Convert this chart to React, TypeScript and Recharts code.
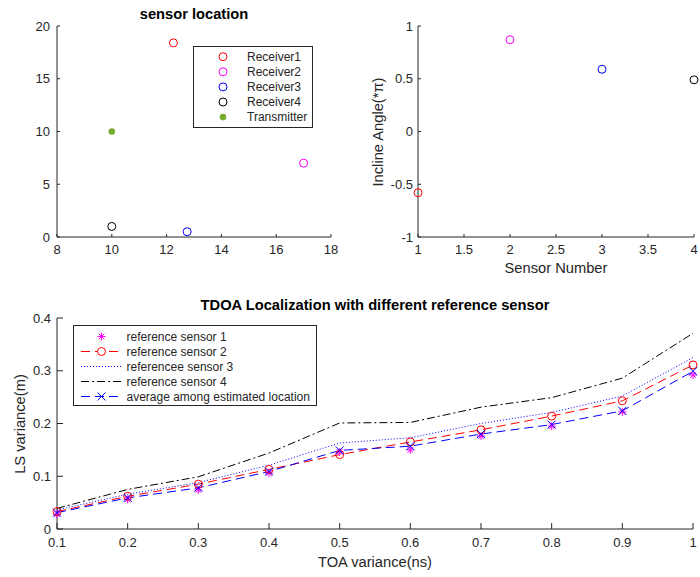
import React from "react";
import { ScatterChart, Scatter, LineChart, Line, XAxis, YAxis, Legend } from "recharts";

const FONT = '"Liberation Sans", Arial, Helvetica, sans-serif';
const INK = "#262626";

// sensor location
const receiverNames = ["Receiver1", "Receiver2", "Receiver3", "Receiver4"];
const receiverX = [12.25, 17, 12.75, 10];
const receiverY = [18.4, 7, 0.5, 1];
const transmitterX = [10];
const transmitterY = [10];
const locationXTicks = [8, 10, 12, 14, 16, 18];
const locationYTicks = [0, 5, 10, 15, 20];

// incline angle per sensor
const sensorNumber = [1, 2, 3, 4];
const inclineAngle = [-0.58, 0.87, 0.59, 0.49];
const sensorTicks = [1, 1.5, 2, 2.5, 3, 3.5, 4];
const angleTicks = [-1, -0.5, 0, 0.5, 1];

// TDOA localization
const toaVariance = [0.1, 0.2, 0.3, 0.4, 0.5, 0.6, 0.7, 0.8, 0.9, 1];
const refSensor1 = [0.028, 0.056, 0.074, 0.106, 0.146, 0.15, 0.176, 0.195, 0.222, 0.292];
const refSensor2 = [0.033, 0.062, 0.085, 0.113, 0.141, 0.165, 0.188, 0.214, 0.243, 0.311];
const refSensor3 = [0.036, 0.066, 0.088, 0.121, 0.163, 0.173, 0.2, 0.221, 0.252, 0.325];
const refSensor4 = [0.039, 0.075, 0.099, 0.144, 0.201, 0.202, 0.231, 0.249, 0.286, 0.371];
const averageLocation = [0.031, 0.059, 0.078, 0.109, 0.149, 0.157, 0.18, 0.198, 0.224, 0.299];
const lsTicks = [0, 0.1, 0.2, 0.3, 0.4];

const receiverColors = ["#ff0000", "#ff00ff", "#0000ff", "#000000"];
const transmitterColor = "#77ac30";

const tdoaRows = toaVariance.map((t, i) => ({
  t,
  s1: refSensor1[i],
  s2: refSensor2[i],
  s3: refSensor3[i],
  s4: refSensor4[i],
  avg: averageLocation[i],
}));

const tickStyle = { fill: INK, fontSize: 13, fontFamily: FONT };
const axisLine = { stroke: INK, strokeWidth: 1 };

const openCircle = (color: string, r = 4) => (p: any) =>
  <circle cx={p.cx} cy={p.cy} r={r} fill="none" stroke={color} strokeWidth={1} />;

const Asterisk = ({ cx, cy, color, s = 4 }: any) => (
  <g stroke={color} strokeWidth={1}>
    <line x1={cx - s} y1={cy} x2={cx + s} y2={cy} />
    <line x1={cx} y1={cy - s} x2={cx} y2={cy + s} />
    <line x1={cx - s * 0.7} y1={cy - s * 0.7} x2={cx + s * 0.7} y2={cy + s * 0.7} />
    <line x1={cx - s * 0.7} y1={cy + s * 0.7} x2={cx + s * 0.7} y2={cy - s * 0.7} />
  </g>
);

const Cross = ({ cx, cy, color, s = 4 }: any) => (
  <g stroke={color} strokeWidth={1}>
    <line x1={cx - s} y1={cy - s} x2={cx + s} y2={cy + s} />
    <line x1={cx - s} y1={cy + s} x2={cx + s} y2={cy - s} />
  </g>
);

const LocationLegend = () => (
  <svg width={120} height={82} style={{ display: "block" }}>
    <rect x={0.5} y={0.5} width={119} height={81} fill="#fff" stroke={INK} />
    {receiverNames.map((name, i) => (
      <g key={name}>
        <circle cx={30} cy={10.7 + 15.1 * i} r={4} fill="none" stroke={receiverColors[i]} />
        <text x={54} y={10.7 + 15.1 * i} dy="0.35em" fontSize={12} fontFamily={FONT} fill={INK}>
          {name}
        </text>
      </g>
    ))}
    <circle cx={30} cy={10.7 + 15.1 * 4} r={3.3} fill={transmitterColor} />
    <text x={54} y={10.7 + 15.1 * 4} dy="0.35em" fontSize={12} fontFamily={FONT} fill={INK}>
      Transmitter
    </text>
  </svg>
);

const tdoaLegendItems = [
  { label: "reference sensor 1", color: "#ff00ff", dash: "none", marker: "asterisk" },
  { label: "reference sensor 2", color: "#ff0000", dash: "9 5", marker: "circle" },
  { label: "referencee sensor 3", color: "#0000ff", dash: "1 2", marker: "" },
  { label: "reference sensor 4", color: "#000000", dash: "8 3 2 3", marker: "" },
  { label: "average among estimated location", color: "#0000ff", dash: "9 5", marker: "cross" },
];

const TdoaLegend = () => (
  <svg width={244} height={81} style={{ display: "block" }}>
    <rect x={0.5} y={0.5} width={243} height={80} fill="#fff" stroke={INK} />
    {tdoaLegendItems.map((it, i) => {
      const y = 11.5 + 15 * i;
      return (
        <g key={it.label}>
          {it.dash !== "none" && (
            <line x1={8} y1={y} x2={49} y2={y} stroke={it.color} strokeDasharray={it.dash} />
          )}
          {it.marker === "asterisk" && <Asterisk cx={28.5} cy={y} color={it.color} />}
          {it.marker === "circle" && (
            <circle cx={28.5} cy={y} r={4} fill="#fff" stroke={it.color} />
          )}
          {it.marker === "cross" && <Cross cx={28.5} cy={y} color={it.color} />}
          <text x={53.5} y={y} dy="0.35em" fontSize={12} fontFamily={FONT} fill={INK}>
            {it.label}
          </text>
        </g>
      );
    })}
  </svg>
);

const textBox = (cx: number, cy: number, text: string, opts: any = {}) => (
  <div
    style={{
      position: "absolute",
      left: cx - 200,
      top: cy - 10,
      width: 400,
      height: 20,
      lineHeight: "20px",
      textAlign: "center",
      fontFamily: FONT,
      fontSize: 14.7,
      color: opts.bold ? "#000" : INK,
      fontWeight: opts.bold ? "bold" : "normal",
      transform: opts.rotate ? "rotate(-90deg)" : undefined,
      whiteSpace: "nowrap",
    }}
  >
    {text}
  </div>
);

export default function App() {
  const markerDot = (kind: string, color: string) => (p: any) => {
    if (p.cx == null || p.cy == null) return <g key={p.index} />;
    if (kind === "asterisk") return <Asterisk key={p.index} cx={p.cx} cy={p.cy} color={color} />;
    if (kind === "cross") return <Cross key={p.index} cx={p.cx} cy={p.cy} color={color} />;
    return <circle key={p.index} cx={p.cx} cy={p.cy} r={4} fill="none" stroke={color} />;
  };

  return (
    <div style={{ position: "absolute", left: 0, top: 0, width: 700, height: 577, background: "#fff" }}>
      {/* sensor location */}
      <div style={{ position: "absolute", left: 0, top: 0 }}>
        <ScatterChart width={350} height={290} margin={{ top: 26, right: 19, bottom: 23, left: 0 }}>
          <XAxis
            type="number"
            dataKey="x"
            domain={[8, 18]}
            ticks={locationXTicks}
            interval={0}
            height={30}
            tickSize={-3}
            tickMargin={11}
            tick={tickStyle}
            axisLine={axisLine}
            tickLine={axisLine}
          />
          <YAxis
            type="number"
            dataKey="y"
            domain={[0, 20]}
            ticks={locationYTicks}
            interval={0}
            width={57}
            tickSize={-3}
            tickMargin={10}
            tick={tickStyle}
            axisLine={axisLine}
            tickLine={axisLine}
          />
          {receiverNames.map((name, i) => (
            <Scatter
              key={name}
              name={name}
              data={[{ x: receiverX[i], y: receiverY[i] }]}
              shape={openCircle(receiverColors[i])}
              isAnimationActive={false}
            />
          ))}
          <Scatter
            name="Transmitter"
            data={transmitterX.map((x, i) => ({ x, y: transmitterY[i] }))}
            shape={(p: any) => <circle cx={p.cx} cy={p.cy} r={3.3} fill={transmitterColor} />}
            isAnimationActive={false}
          />
          <Legend
            verticalAlign="middle"
            align="center"
            content={() => <LocationLegend />}
            wrapperStyle={{ left: 193, top: 46, width: 120, height: 82 }}
          />
        </ScatterChart>
      </div>
      {textBox(194, 14, "sensor location", { bold: true })}

      {/* incline angle */}
      <div style={{ position: "absolute", left: 350, top: 0 }}>
        <ScatterChart width={350} height={290} margin={{ top: 26, right: 6, bottom: 23, left: 0 }}>
          <XAxis
            type="number"
            dataKey="x"
            domain={[1, 4]}
            ticks={sensorTicks}
            interval={0}
            height={30}
            tickSize={-3}
            tickMargin={11}
            tick={tickStyle}
            axisLine={axisLine}
            tickLine={axisLine}
          />
          <YAxis
            type="number"
            dataKey="y"
            domain={[-1, 1]}
            ticks={angleTicks}
            interval={0}
            width={68}
            tickSize={-3}
            tickMargin={8}
            tick={tickStyle}
            axisLine={axisLine}
            tickLine={axisLine}
          />
          {sensorNumber.map((n, i) => (
            <Scatter
              key={n}
              data={[{ x: n, y: inclineAngle[i] }]}
              shape={openCircle(receiverColors[i])}
              isAnimationActive={false}
            />
          ))}
        </ScatterChart>
      </div>
      {textBox(378, 132, "Incline Angle(*π)", { rotate: true })}
      {textBox(556, 268, "Sensor Number")}

      {/* TDOA localization */}
      <div style={{ position: "absolute", left: 0, top: 290 }}>
        <LineChart width={700} height={287} data={tdoaRows} margin={{ top: 28, right: 7, bottom: 18, left: 0 }}>
          <XAxis
            xAxisId="b"
            type="number"
            dataKey="t"
            domain={[0.1, 1]}
            ticks={toaVariance}
            interval={0}
            height={30}
            tickSize={-6}
            tickMargin={15}
            tick={tickStyle}
            axisLine={axisLine}
            tickLine={axisLine}
          />
          <XAxis
            xAxisId="t"
            orientation="top"
            type="number"
            dataKey="t"
            domain={[0.1, 1]}
            ticks={toaVariance}
            interval={0}
            height={0}
            tickSize={-6}
            tick={false}
            axisLine={axisLine}
            tickLine={axisLine}
          />
          <YAxis
            yAxisId="l"
            type="number"
            domain={[0, 0.4]}
            ticks={lsTicks}
            interval={0}
            width={57}
            tickSize={-6}
            tickMargin={12}
            tick={tickStyle}
            axisLine={axisLine}
            tickLine={axisLine}
          />
          <YAxis
            yAxisId="r"
            orientation="right"
            type="number"
            domain={[0, 0.4]}
            ticks={lsTicks}
            interval={0}
            width={0}
            tickSize={-6}
            tick={false}
            axisLine={axisLine}
            tickLine={axisLine}
          />
          <Line xAxisId="b" yAxisId="l" dataKey="s1" stroke="none" dot={markerDot("asterisk", "#ff00ff")} activeDot={false} isAnimationActive={false} />
          <Line xAxisId="b" yAxisId="l" dataKey="s2" stroke="#ff0000" strokeWidth={1} strokeDasharray="9 5" dot={markerDot("circle", "#ff0000")} activeDot={false} isAnimationActive={false} />
          <Line xAxisId="b" yAxisId="l" dataKey="s3" stroke="#0000ff" strokeWidth={1} strokeDasharray="1 2" dot={false} activeDot={false} isAnimationActive={false} />
          <Line xAxisId="b" yAxisId="l" dataKey="s4" stroke="#000000" strokeWidth={1} strokeDasharray="8 3 2 3" dot={false} activeDot={false} isAnimationActive={false} />
          <Line xAxisId="b" yAxisId="l" dataKey="avg" stroke="#0000ff" strokeWidth={1} strokeDasharray="9 5" dot={markerDot("cross", "#0000ff")} activeDot={false} isAnimationActive={false} />
          <Legend
            verticalAlign="middle"
            align="center"
            content={() => <TdoaLegend />}
            wrapperStyle={{ left: 73, top: 35, width: 244, height: 81 }}
          />
        </LineChart>
      </div>
      {textBox(375, 305, "TDOA Localization with different reference sensor", { bold: true })}
      {textBox(375, 562, "TOA variance(ns)")}
      {textBox(20, 424, "LS variance(m)", { rotate: true })}
    </div>
  );
}
